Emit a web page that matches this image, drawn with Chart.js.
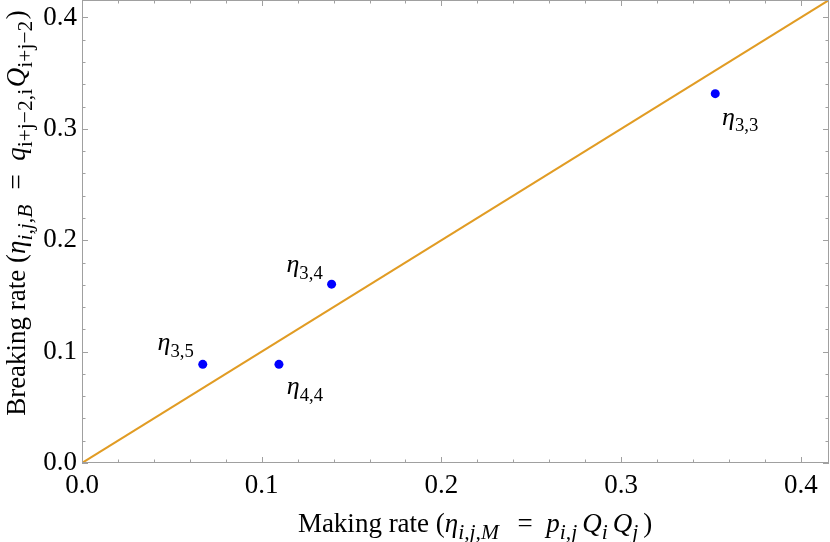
<!DOCTYPE html>
<html>
<head>
<meta charset="utf-8">
<script src="https://cdn.jsdelivr.net/npm/chart.js@4"></script>
<style>
  html, body { margin: 0; padding: 0; background: #fff; }
  #wrap { width: 830px; height: 542px; }
</style>
</head>
<body>
<div id="wrap"><canvas id="myChart" width="830" height="542"></canvas></div>
<script>
// valores
const makingRates = [0.3524, 0.1389, 0.0672, 0.1096];
const breakingRates = [0.3316, 0.1606, 0.0886, 0.0886];
const pointNames = ['3,3', '3,4', '3,5', '4,4'];
const tickValues = [0, 0.1, 0.2, 0.3, 0.4];
const axisMax = 0.4157;
const lineEnds = [0, axisMax];

// desplazamiento de cada etiqueta respecto al punto (px)
const labelOffsets = [[25, 27], [-27, -16], [-27, -18], [26, 26]];

const serif = '"Liberation Serif", "DejaVu Serif", serif';
const frameColor = '#a0a0a0';

function drawRich(ctx, segs, size, x, y, subScale, gap) {
    // mide y dibuja segmentos con cursiva y subindices, centrado en x
    var widths = [];
    var total = 0;
    segs.forEach(function (s) {
        var fs = s.sub ? size * subScale : size;
        ctx.font = (s.it ? 'italic ' : '') + fs + 'px ' + serif;
        var w = ctx.measureText(s.t).width + (s.sub ? gap : 0);
        widths.push(w);
        total += w;
    });
    var cx = x - total / 2;
    segs.forEach(function (s, i) {
        var fs = s.sub ? size * subScale : size;
        ctx.font = (s.it ? 'italic ' : '') + fs + 'px ' + serif;
        ctx.fillText(s.t, cx, s.sub ? y + size * 0.25 : y);
        cx += widths[i];
    });
}

const xTitle = [
    {t: 'Making rate ('}, {t: 'η', it: true}, {t: 'i,j,M', it: true, sub: true},
    {t: '  =  '}, {t: 'p', it: true}, {t: 'i,j', it: true, sub: true},
    {t: 'Q', it: true}, {t: 'i', it: true, sub: true},
    {t: 'Q', it: true}, {t: 'j', it: true, sub: true}, {t: ')'}
];
const yTitle = [
    {t: 'Breaking rate ('}, {t: 'η', it: true}, {t: 'i,j,B', it: true, sub: true},
    {t: '  =  '}, {t: 'q', it: true}, {t: 'i+j−2,i', sub: true},
    {t: 'Q', it: true}, {t: 'i+j−2', sub: true}, {t: ')'}
];

const framePlugin = {
    id: 'frame',
    afterDraw: function (chart) {
        const ctx = chart.ctx;
        const a = chart.chartArea;
        const xs = chart.scales.x, ys = chart.scales.y;
        ctx.save();
        ctx.strokeStyle = frameColor;
        ctx.lineWidth = 1;
        ctx.strokeRect(a.left + 0.5, a.top + 0.5, a.right - a.left - 1, a.bottom - a.top - 1);
        ctx.beginPath();
        for (let k = 0; k <= 20; k++) {
            const v = k * 0.02;
            if (v > axisMax) break;
            const len = (k % 5 === 0) ? 6 : 3.5;
            const px = Math.round(xs.getPixelForValue(v)) + 0.5;
            ctx.moveTo(px, a.bottom); ctx.lineTo(px, a.bottom - len);
            ctx.moveTo(px, a.top); ctx.lineTo(px, a.top + len);
            const py = Math.round(ys.getPixelForValue(v)) + 0.5;
            ctx.moveTo(a.left, py); ctx.lineTo(a.left + len, py);
            ctx.moveTo(a.right, py); ctx.lineTo(a.right - len, py);
        }
        ctx.stroke();

        // titulos de los ejes
        ctx.fillStyle = '#000';
        ctx.textBaseline = 'alphabetic';
        ctx.textAlign = 'left';
        drawRich(ctx, xTitle, 27, 475, 532, 0.8, 5);
        ctx.translate(25, 213);
        ctx.rotate(-Math.PI / 2);
        drawRich(ctx, yTitle, 27, 0, 0, 0.8, 1.5);
        ctx.restore();
    },
    afterDatasetsDraw: function (chart) {
        const ctx = chart.ctx;
        const meta = chart.getDatasetMeta(0);
        ctx.save();
        ctx.fillStyle = '#000';
        ctx.textAlign = 'left';
        ctx.textBaseline = 'alphabetic';
        meta.data.forEach(function (pt, i) {
            const o = labelOffsets[i];
            drawRich(ctx, [{t: 'η', it: true}, {t: pointNames[i], sub: true}], 26,
                pt.x + o[0], pt.y + o[1] + 4, 0.72, 0);
        });
        ctx.restore();
    }
};

const puntos = makingRates.map(function (v, i) {
    return {x: v, y: breakingRates[i]};
});

new Chart(document.getElementById('myChart'), {
    type: 'scatter',
    data: {
        datasets: [
            {
                data: puntos,
                backgroundColor: '#0000ff',
                borderColor: '#0000ff',
                pointRadius: 4.5,
                pointHoverRadius: 4.5,
                borderWidth: 0,
                order: 0
            },
            {
                data: lineEnds.map(function (v) { return {x: v, y: v}; }),
                showLine: true,
                borderColor: '#e19c24',
                borderWidth: 2,
                pointRadius: 0,
                order: 1
            }
        ]
    },
    options: {
        responsive: false,
        animation: false,
        devicePixelRatio: 1,
        layout: {autoPadding: false, padding: {top: 0, right: 1, left: 0, bottom: 0}},
        plugins: {legend: {display: false}, tooltip: {enabled: false}},
        scales: {
            x: {
                type: 'linear',
                min: 0,
                max: axisMax,
                grid: {display: false, drawTicks: false},
                border: {display: false},
                afterBuildTicks: function (s) { s.ticks = tickValues.map(function (v) { return {value: v}; }); },
                afterFit: function (s) {
                    s.height = 79;
                    s.paddingLeft = 0;
                    s.paddingRight = 0;
                },
                ticks: {
                    padding: 7,
                    color: '#000',
                    font: {family: serif, size: 27},
                    maxRotation: 0,
                    callback: function (v) { return Number(v).toFixed(1); }
                }
            },
            y: {
                type: 'linear',
                min: 0,
                max: axisMax,
                grid: {display: false, drawTicks: false},
                border: {display: false},
                afterBuildTicks: function (s) { s.ticks = tickValues.map(function (v) { return {value: v}; }); },
                afterFit: function (s) {
                    s.width = 82;
                    s.paddingTop = 0;
                    s.paddingBottom = 0;
                },
                ticks: {
                    padding: 5,
                    color: '#000',
                    font: {family: serif, size: 27},
                    callback: function (v) { return Number(v).toFixed(1); }
                }
            }
        }
    },
    plugins: [framePlugin]
});
</script>
</body>
</html>
